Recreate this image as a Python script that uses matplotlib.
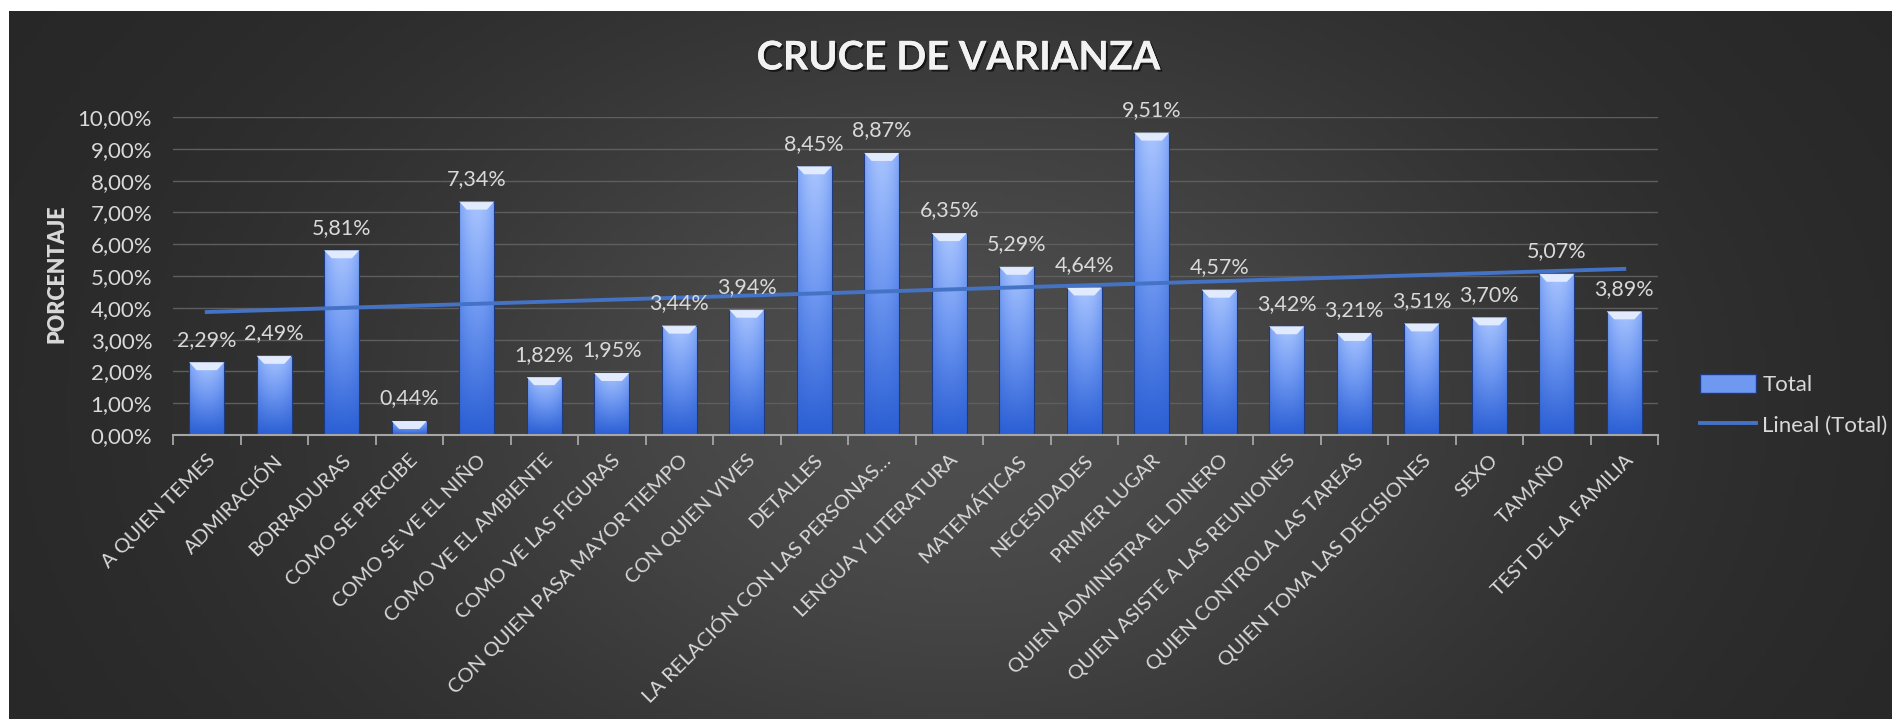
import numpy as np
import matplotlib
matplotlib.use("Agg")
from matplotlib import pyplot as plt
from matplotlib.patches import Polygon, Patch
from matplotlib.lines import Line2D
from matplotlib import patheffects as pe
from matplotlib.colors import LinearSegmentedColormap

plt.rcParams['font.family'] = ['Lato', 'DejaVu Sans']

categories = ["A QUIEN TEMES", "ADMIRACIÓN", "BORRADURAS", "COMO SE PERCIBE",
              "COMO SE VE EL NIÑO", "COMO VE EL AMBIENTE", "COMO VE LAS FIGURAS",
              "CON QUIEN PASA MAYOR TIEMPO", "CON QUIEN VIVES", "DETALLES",
              "LA RELACIÓN CON LAS PERSONAS…", "LENGUA Y LITERATURA", "MATEMÁTICAS",
              "NECESIDADES", "PRIMER LUGAR", "QUIEN ADMINISTRA EL DINERO",
              "QUIEN ASISTE A LAS REUNIONES", "QUIEN CONTROLA LAS TAREAS",
              "QUIEN TOMA LAS DECISIONES", "SEXO", "TAMAÑO", "TEST DE LA FAMILIA"]
values = [2.29, 2.49, 5.81, 0.44, 7.34, 1.82, 1.95, 3.44, 3.94, 8.45, 8.87,
          6.35, 5.29, 4.64, 9.51, 4.57, 3.42, 3.21, 3.51, 3.70, 5.07, 3.89]
yticks = list(range(0, 11))

TXT = '#d9d9d9'
W, H = 1892, 719
fig = plt.figure(figsize=(W / 100, H / 100), dpi=100, facecolor='white')

# dark gradient background
bg = fig.add_axes([9 / W, 0, 1 - 9 / W, 1 - 11 / H], zorder=-10)
gx, gy = np.meshgrid(np.linspace(0, W, 400), np.linspace(0, H, 160))
g = 38 + 40 * np.exp(-(((gx - 950) / 620) ** 2 + ((gy - 400) / 430) ** 2))
bg.imshow(np.dstack([g, g, g]).astype(np.uint8), aspect='auto', extent=[0, 1, 0, 1])
bg.axis('off')

ax = fig.add_axes([173 / W, (H - 435) / H, 1485 / W, 318 / H])
ax.patch.set_alpha(0)
x = np.arange(len(values))
bars = ax.bar(x, values, width=0.52, color='none', edgecolor='#1d3a80', linewidth=0.8, zorder=3)

cmap = LinearSegmentedColormap.from_list('b', ['#2b5fd4', '#6b95f0', '#a8c4ff'])
grad_v = np.linspace(0, 1, 100)[:, None]
grad_h = 1 - 0.35 * np.abs(np.linspace(-1, 1, 40))[None, :] ** 2
img = grad_v * grad_h
bh = 8 / 31.8   # bevel height in data units
bw = 0.11
for b in bars:
    x0, w, h = b.get_x(), b.get_width(), b.get_height()
    im = ax.imshow(img, cmap=cmap, aspect='auto', extent=[x0, x0 + w, 0, h],
                   origin='lower', zorder=2, vmin=0, vmax=1)
    im.set_clip_path(b)
    bev = min(bh, h * 0.6)
    ax.add_patch(Polygon([[x0, h], [x0 + w, h], [x0 + w - bw, h - bev], [x0 + bw, h - bev]],
                         closed=True, facecolor='#e6eeff', edgecolor='none', alpha=0.95, zorder=4))
    ax.annotate(f"{h:.2f}%".replace('.', ','), (x0 + w / 2, h), xytext=(0, 9),
                textcoords='offset points', ha='center', va='bottom', color=TXT, fontsize=15.5, zorder=6)

# linear trendline
k, c = np.polyfit(x + 1, values, 1)
ax.plot(x, k * (x + 1) + c, color='#4472c4', lw=2.8, zorder=5)

ax.set_xlim(-0.5, len(values) - 0.5)
ax.set_ylim(0, 10)
ax.set_yticks(yticks)
ax.set_yticklabels([f"{t},00%" for t in yticks], color=TXT, fontsize=16)
ax.set_xticks(x)
ax.set_xticklabels(categories, rotation=45, ha='right', va='top', rotation_mode='anchor',
                   color=TXT, fontsize=14.5)
ax.set_xticks(np.arange(len(values) + 1) - 0.5, minor=True)
ax.tick_params(axis='x', which='major', length=0, pad=12)
ax.tick_params(axis='x', which='minor', length=7, color='#a6a6a6', width=1.3)
ax.tick_params(axis='y', length=0, pad=15)
ax.grid(axis='y', color='#5e5e5e', lw=1, zorder=0)
ax.set_axisbelow(True)
for s in ['top', 'right', 'left']:
    ax.spines[s].set_visible(False)
ax.spines['bottom'].set_color('#a6a6a6')
ax.spines['bottom'].set_linewidth(1.5)
ax.spines['bottom'].set_zorder(7)

fig.text(57 / W, 1 - 274 / H, "PORCENTAJE", rotation=90, ha='center', va='center',
         color=TXT, fontsize=15.5, fontweight='heavy')
fig.text(959 / W, 1 - 58 / H, "CRUCE DE VARIANZA", ha='center', va='center',
         color='#f2f2f2', fontsize=28.5, fontweight='bold',
         path_effects=[pe.withSimplePatchShadow(offset=(1.5, -1.5), shadow_rgbFace='black', alpha=0.6),
                       pe.Normal()])

handles = [Patch(facecolor='#6f98f0', edgecolor='#1d3a80'),
           Line2D([0], [0], color='#4472c4', lw=2.8)]
fig.legend(handles, ['Total', 'Lineal (Total)'], loc='center left',
           bbox_to_anchor=(1680 / W, 1 - 405 / H), frameon=False, fontsize=16,
           labelcolor=TXT, handlelength=2.5, handleheight=0.9, labelspacing=0.9, handletextpad=0.3)

fig.savefig('out.png', dpi=100, facecolor='white')
